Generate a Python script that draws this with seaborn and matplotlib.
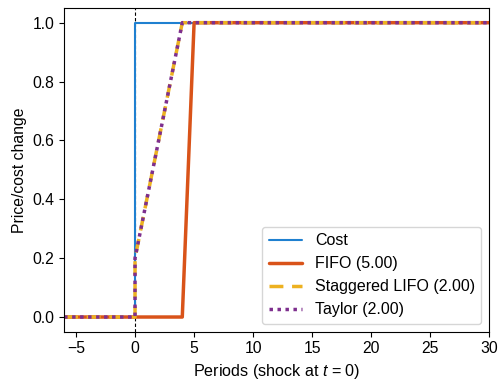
import matplotlib
matplotlib.use("Agg")
import matplotlib.pyplot as plt
import seaborn as sns
import pandas as pd

sns.set_style("ticks", {"axes.edgecolor": "black", "xtick.color": "black",
                        "ytick.color": "black", "text.color": "black",
                        "axes.labelcolor": "black"})
plt.rcParams['font.family'] = ['Liberation Sans', 'DejaVu Sans']
plt.rcParams['mathtext.fontset'] = 'custom'
plt.rcParams['mathtext.rm'] = 'Liberation Sans'
plt.rcParams['mathtext.it'] = 'Liberation Sans:italic'

# Data (periods and responses)
cost_t = [-6, 0, 0, 30]
cost_y = [0.0, 0.0, 1.0, 1.0]
fifo_t = [-6, 4, 5, 30]
fifo_y = [0.0, 0.0, 1.0, 1.0]
lifo_t = [-6, 0, 0, 1, 2, 3, 4, 30]
lifo_y = [0.0, 0.0, 0.2, 0.4, 0.6, 0.8, 1.0, 1.0]
taylor_t = [-6, 0, 0, 1, 2, 3, 4, 30]
taylor_y = [0.0, 0.0, 0.2, 0.4, 0.6, 0.8, 1.0, 1.0]

labels = ["Cost", "FIFO (5.00)", "Staggered LIFO (2.00)", "Taylor (2.00)"]
colors = ["#1f80d0", "#D95319", "#EDB120", "#7E2F8E"]

fig, ax = plt.subplots(figsize=(5.01, 3.8), dpi=100)
ax.axvline(0, color="black", linestyle="--", linewidth=0.8, dashes=(3, 2))

series = [(cost_t, cost_y), (fifo_t, fifo_y), (lifo_t, lifo_y), (taylor_t, taylor_y)]
styles = [dict(linewidth=1.5), dict(linewidth=2.5),
          dict(linewidth=2.5, dashes=(4, 2.5)), dict(linewidth=2.5, dashes=(1, 1.3))]
for (t, y), lab, c, st in zip(series, labels, colors, styles):
    df = pd.DataFrame({"t": t, "y": y})
    ls = st.pop("dashes", None)
    sns.lineplot(data=df, x="t", y="y", sort=False, estimator=None,
                 color=c, label=lab, ax=ax, **st)
    if ls is not None:
        ax.lines[-1].set_dashes(ls)

fs = 11.3
ax.set_xlim(-6, 30)
ax.set_ylim(-0.05, 1.05)
ax.set_xticks([-5, 0, 5, 10, 15, 20, 25, 30])
ax.set_yticks([0.0, 0.2, 0.4, 0.6, 0.8, 1.0])
ax.set_xlabel("Periods (shock at $t$ = 0)", fontsize=11.6)
ax.set_ylabel("Price/cost change", fontsize=fs)
ax.tick_params(labelsize=fs)
ax.legend(loc="lower right", fontsize=11.5, handlelength=2.1)
fig.subplots_adjust(left=0.128, right=0.977, bottom=0.127, top=0.979)
fig.savefig("out.png", dpi=100)
